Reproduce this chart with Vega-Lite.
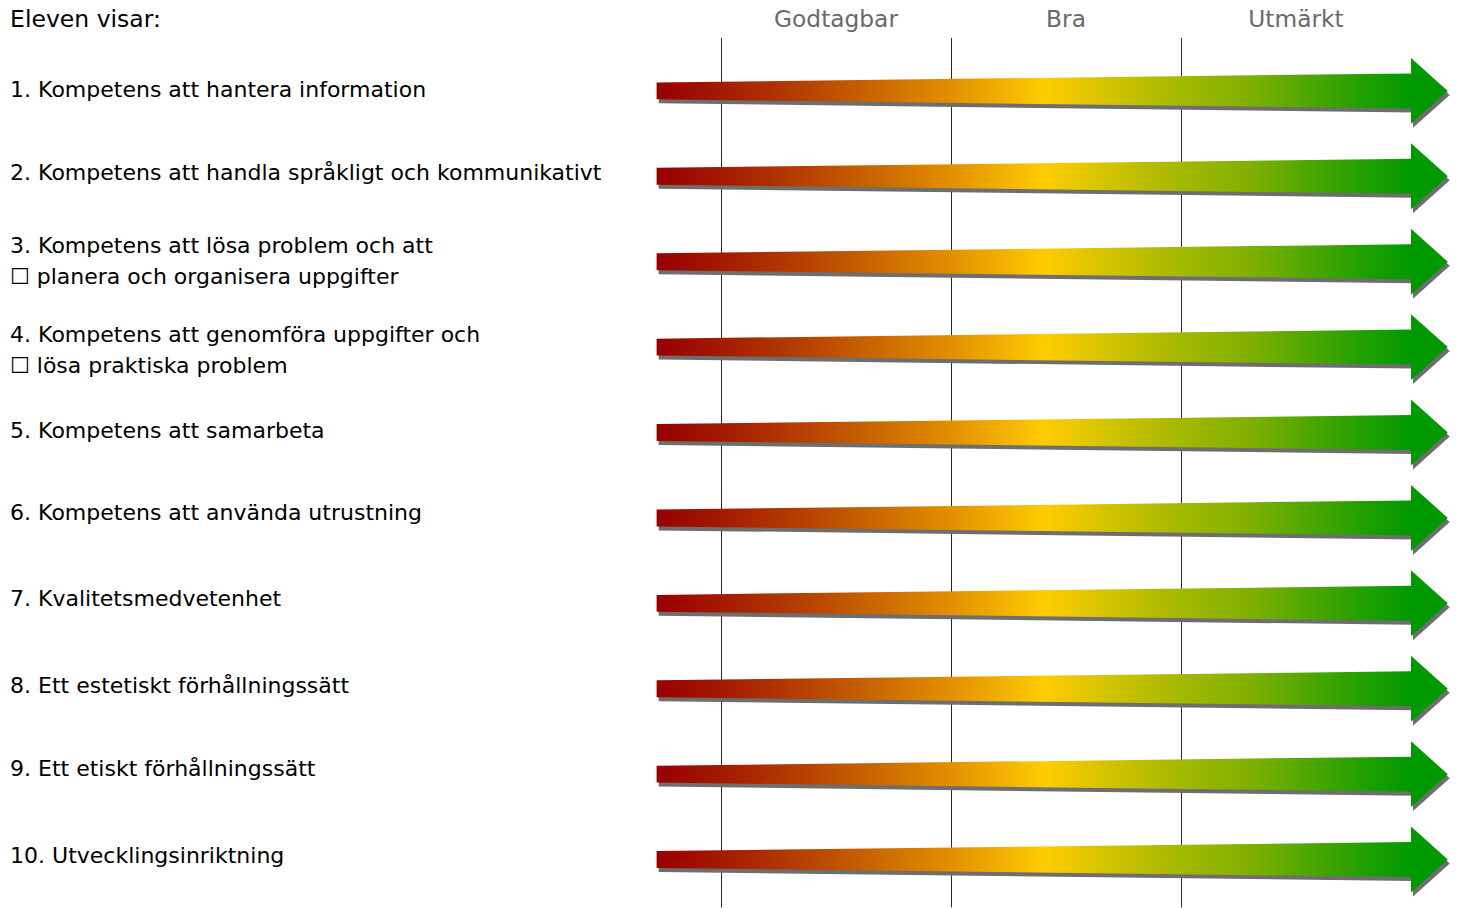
{
  "$schema": "https://vega.github.io/schema/vega-lite/v6.json",
  "width": 1459,
  "height": 908,
  "padding": 0,
  "autosize": {"type": "fit", "contains": "padding"},
  "background": "white",
  "config": {"view": {"stroke": null}},
  "datasets": {
    "arrows": [
      {"row": 1, "k": 0, "x": 0.72, "y": 0.901, "y2": 1.099},
      {"row": 1, "k": 1, "x": 4.0, "y": 0.795, "y2": 1.205},
      {"row": 1, "k": 2, "x": 4.0, "y": 0.614, "y2": 1.386},
      {"row": 1, "k": 3, "x": 4.16, "y": 1.0, "y2": 1.0},
      {"row": 2, "k": 0, "x": 0.72, "y": 1.901, "y2": 2.099},
      {"row": 2, "k": 1, "x": 4.0, "y": 1.795, "y2": 2.205},
      {"row": 2, "k": 2, "x": 4.0, "y": 1.614, "y2": 2.386},
      {"row": 2, "k": 3, "x": 4.16, "y": 2.0, "y2": 2.0},
      {"row": 3, "k": 0, "x": 0.72, "y": 2.901, "y2": 3.099},
      {"row": 3, "k": 1, "x": 4.0, "y": 2.795, "y2": 3.205},
      {"row": 3, "k": 2, "x": 4.0, "y": 2.614, "y2": 3.386},
      {"row": 3, "k": 3, "x": 4.16, "y": 3.0, "y2": 3.0},
      {"row": 4, "k": 0, "x": 0.72, "y": 3.901, "y2": 4.099},
      {"row": 4, "k": 1, "x": 4.0, "y": 3.795, "y2": 4.205},
      {"row": 4, "k": 2, "x": 4.0, "y": 3.614, "y2": 4.386},
      {"row": 4, "k": 3, "x": 4.16, "y": 4.0, "y2": 4.0},
      {"row": 5, "k": 0, "x": 0.72, "y": 4.901, "y2": 5.099},
      {"row": 5, "k": 1, "x": 4.0, "y": 4.795, "y2": 5.205},
      {"row": 5, "k": 2, "x": 4.0, "y": 4.614, "y2": 5.386},
      {"row": 5, "k": 3, "x": 4.16, "y": 5.0, "y2": 5.0},
      {"row": 6, "k": 0, "x": 0.72, "y": 5.901, "y2": 6.099},
      {"row": 6, "k": 1, "x": 4.0, "y": 5.795, "y2": 6.205},
      {"row": 6, "k": 2, "x": 4.0, "y": 5.614, "y2": 6.386},
      {"row": 6, "k": 3, "x": 4.16, "y": 6.0, "y2": 6.0},
      {"row": 7, "k": 0, "x": 0.72, "y": 6.901, "y2": 7.099},
      {"row": 7, "k": 1, "x": 4.0, "y": 6.795, "y2": 7.205},
      {"row": 7, "k": 2, "x": 4.0, "y": 6.614, "y2": 7.386},
      {"row": 7, "k": 3, "x": 4.16, "y": 7.0, "y2": 7.0},
      {"row": 8, "k": 0, "x": 0.72, "y": 7.901, "y2": 8.099},
      {"row": 8, "k": 1, "x": 4.0, "y": 7.795, "y2": 8.205},
      {"row": 8, "k": 2, "x": 4.0, "y": 7.614, "y2": 8.386},
      {"row": 8, "k": 3, "x": 4.16, "y": 8.0, "y2": 8.0},
      {"row": 9, "k": 0, "x": 0.72, "y": 8.901, "y2": 9.099},
      {"row": 9, "k": 1, "x": 4.0, "y": 8.795, "y2": 9.205},
      {"row": 9, "k": 2, "x": 4.0, "y": 8.614, "y2": 9.386},
      {"row": 9, "k": 3, "x": 4.16, "y": 9.0, "y2": 9.0},
      {"row": 10, "k": 0, "x": 0.72, "y": 9.901, "y2": 10.099},
      {"row": 10, "k": 1, "x": 4.0, "y": 9.795, "y2": 10.205},
      {"row": 10, "k": 2, "x": 4.0, "y": 9.614, "y2": 10.386},
      {"row": 10, "k": 3, "x": 4.16, "y": 10.0, "y2": 10.0}
    ],
    "labels": [
      {"x": -2.091, "y": 0.988, "label": "1. Kompetens att hantera information"},
      {"x": -2.091, "y": 1.959, "label": "2. Kompetens att handla språkligt och kommunikativt"},
      {"x": -2.091, "y": 2.813, "label": "3. Kompetens att lösa problem och att\n☐ planera och organisera uppgifter"},
      {"x": -2.091, "y": 3.854, "label": "4. Kompetens att genomföra uppgifter och\n☐ lösa praktiska problem"},
      {"x": -2.091, "y": 4.988, "label": "5. Kompetens att samarbeta"},
      {"x": -2.091, "y": 5.947, "label": "6. Kompetens att använda utrustning"},
      {"x": -2.091, "y": 6.953, "label": "7. Kvalitetsmedvetenhet"},
      {"x": -2.091, "y": 7.971, "label": "8. Ett estetiskt förhållningssätt"},
      {"x": -2.091, "y": 8.942, "label": "9. Ett etiskt förhållningssätt"},
      {"x": -2.091, "y": 9.959, "label": "10. Utvecklingsinriktning"}
    ],
    "title": [
      {"x": -2.091, "y": 0.17, "label": "Eleven visar:"}
    ],
    "headers": [
      {"x": 1.5, "y": 0.17, "label": "Godtagbar"},
      {"x": 2.5, "y": 0.17, "label": "Bra"},
      {"x": 3.5, "y": 0.17, "label": "Utmärkt"}
    ],
    "lines": [
      {"x": 1, "y": 0.38, "y2": 10.56},
      {"x": 2, "y": 0.38, "y2": 10.56},
      {"x": 3, "y": 0.38, "y2": 10.56}
    ]
  },
  "layer": [
    {
      "data": {"name": "lines"},
      "mark": {"type": "rule", "color": "#2a2a2a", "strokeWidth": 1, "xOffset": 0.5},
      "encoding": {
        "x": {"field": "x", "type": "quantitative", "scale": {"domain": [-2.1348, 4.2087], "nice": false, "zero": false}, "axis": null},
        "y": {"field": "y", "type": "quantitative", "scale": {"domain": [-0.0643, 10.5556], "nice": false, "zero": false, "reverse": true}, "axis": null},
        "y2": {"field": "y2"}
      }
    },
    {
      "data": {"name": "arrows"},
      "mark": {"type": "area", "color": "#6e6e6e", "xOffset": 2, "yOffset": 4, "y2Offset": 4, "opacity": 1},
      "encoding": {
        "x": {"field": "x", "type": "quantitative", "scale": {"domain": [-2.1348, 4.2087], "nice": false, "zero": false}, "axis": null},
        "y": {"field": "y", "type": "quantitative", "stack": null, "scale": {"domain": [-0.0643, 10.5556], "nice": false, "zero": false, "reverse": true}, "axis": null},
        "y2": {"field": "y2"},
        "detail": {"field": "row", "type": "nominal"}
      }
    },
    {
      "data": {"name": "arrows"},
      "mark": {
        "type": "area",
        "opacity": 1,
        "color": {
          "gradient": "linear",
          "x1": 0, "y1": 0, "x2": 1, "y2": 0,
          "stops": [
            {"offset": 0, "color": "#990000"},
            {"offset": 0.082, "color": "#a31a00"},
            {"offset": 0.182, "color": "#b53f00"},
            {"offset": 0.27, "color": "#c86400"},
            {"offset": 0.373, "color": "#e39000"},
            {"offset": 0.435, "color": "#f0b000"},
            {"offset": 0.49, "color": "#ffcc00"},
            {"offset": 0.56, "color": "#d8c400"},
            {"offset": 0.664, "color": "#a3b800"},
            {"offset": 0.75, "color": "#7fb000"},
            {"offset": 0.814, "color": "#55a800"},
            {"offset": 0.89, "color": "#22a000"},
            {"offset": 0.953, "color": "#009900"},
            {"offset": 1, "color": "#009900"}
          ]
        }
      },
      "encoding": {
        "x": {"field": "x", "type": "quantitative", "scale": {"domain": [-2.1348, 4.2087], "nice": false, "zero": false}, "axis": null},
        "y": {"field": "y", "type": "quantitative", "stack": null, "scale": {"domain": [-0.0643, 10.5556], "nice": false, "zero": false, "reverse": true}, "axis": null},
        "y2": {"field": "y2"},
        "detail": {"field": "row", "type": "nominal"}
      }
    },
    {
      "data": {"name": "labels"},
      "mark": {"type": "text", "align": "left", "baseline": "middle", "font": "DejaVu Sans", "fontSize": 22, "color": "#000000", "lineBreak": "\n", "lineHeight": 31},
      "encoding": {
        "x": {"field": "x", "type": "quantitative", "scale": {"domain": [-2.1348, 4.2087], "nice": false, "zero": false}, "axis": null},
        "y": {"field": "y", "type": "quantitative", "scale": {"domain": [-0.0643, 10.5556], "nice": false, "zero": false, "reverse": true}, "axis": null},
        "text": {"field": "label", "type": "nominal"}
      }
    },
    {
      "data": {"name": "title"},
      "mark": {"type": "text", "align": "left", "baseline": "middle", "font": "DejaVu Sans", "fontSize": 23.5, "color": "#000000"},
      "encoding": {
        "x": {"field": "x", "type": "quantitative", "scale": {"domain": [-2.1348, 4.2087], "nice": false, "zero": false}, "axis": null},
        "y": {"field": "y", "type": "quantitative", "scale": {"domain": [-0.0643, 10.5556], "nice": false, "zero": false, "reverse": true}, "axis": null},
        "text": {"field": "label", "type": "nominal"}
      }
    },
    {
      "data": {"name": "headers"},
      "mark": {"type": "text", "align": "center", "baseline": "middle", "font": "DejaVu Sans", "fontSize": 23.3, "color": "#6a6a6a"},
      "encoding": {
        "x": {"field": "x", "type": "quantitative", "scale": {"domain": [-2.1348, 4.2087], "nice": false, "zero": false}, "axis": null},
        "y": {"field": "y", "type": "quantitative", "scale": {"domain": [-0.0643, 10.5556], "nice": false, "zero": false, "reverse": true}, "axis": null},
        "text": {"field": "label", "type": "nominal"}
      }
    }
  ]
}
